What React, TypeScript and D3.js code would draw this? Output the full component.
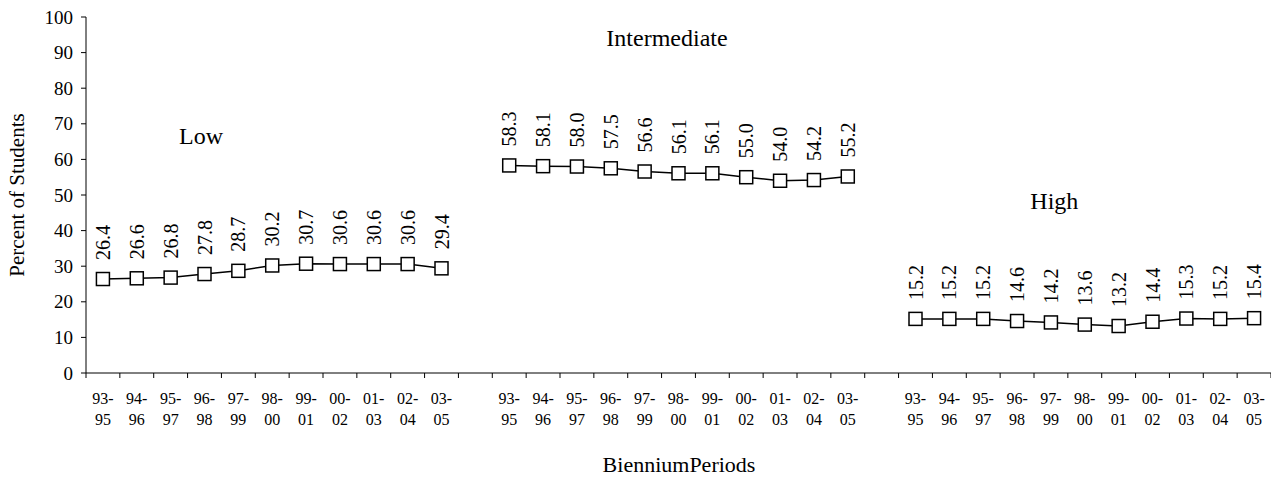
import React from "react";
import * as d3 from "d3";

const periods = ["93-95", "94-96", "95-97", "96-98", "97-99", "98-00", "99-01", "00-02", "01-03", "02-04", "03-05"];
const groups = ["Low", "Intermediate", "High"];
const lowValues = [26.4, 26.6, 26.8, 27.8, 28.7, 30.2, 30.7, 30.6, 30.6, 30.6, 29.4];
const intermediateValues = [58.3, 58.1, 58.0, 57.5, 56.6, 56.1, 56.1, 55.0, 54.0, 54.2, 55.2];
const highValues = [15.2, 15.2, 15.2, 14.6, 14.2, 13.6, 13.2, 14.4, 15.3, 15.2, 15.4];
const yTicks = [0, 10, 20, 30, 40, 50, 60, 70, 80, 90, 100];
// group label anchor: [slot position, value]
const groupLabelPos: [number, number][] = [[2.9, 64.2], [16.66, 91.8], [28.1, 46]];

const W = 1271, H = 477;
const FONT = "Liberation Serif, DejaVu Serif, Times New Roman, serif";

export default function App() {
  const series = [lowValues, intermediateValues, highValues];
  const nSlots = periods.length * 3 + 2;
  const x = d3.scaleBand<number>().domain(d3.range(nSlots)).range([86, 1271]).padding(0);
  const y = d3.scaleLinear().domain([0, 100]).range([373, 17]);
  const slotIndex = (g: number, i: number) => g * (periods.length + 1) + i;
  const cx = (s: number) => (x(s) as number) + x.bandwidth() / 2;
  const line = d3.line<[number, number]>().x(d => d[0]).y(d => d[1]);
  const xAt = (pos: number) => 86 + pos * x.bandwidth() + x.bandwidth() / 2;
  const ms = 13;
  const ts = { fontFamily: FONT } as React.CSSProperties;

  return (
    <svg width={W} height={H} style={{ position: "absolute", left: 0, top: 0, background: "#fff", fontFamily: FONT }}>
      <rect width={W} height={H} fill="#fff" />
      {/* Y axis */}
      <line x1={86} x2={86} y1={y(100)} y2={y(0)} stroke="#000" strokeWidth={1} />
      {yTicks.map(t => (
        <g key={t}>
          <line x1={81} x2={86} y1={y(t)} y2={y(t)} stroke="#000" />
          <text style={ts} x={73} y={y(t)} dy="0.35em" textAnchor="end" fontSize={19}>{t}</text>
        </g>
      ))}
      <text style={ts} transform={`translate(24,${(y(0) + y(100)) / 2}) rotate(-90)`} textAnchor="middle" fontSize={21}>Percent of Students</text>
      {/* X axis */}
      <line x1={86} x2={W} y1={y(0)} y2={y(0)} stroke="#000" strokeWidth={1} />
      {d3.range(nSlots + 1).map(s => (
        <line key={s} x1={86 + s * x.bandwidth()} x2={86 + s * x.bandwidth()} y1={y(0)} y2={y(0) + 5} stroke="#000" />
      ))}
      {groups.map((g, gi) => periods.map((p, i) => {
        const [a, b] = p.split("-");
        const xx = cx(slotIndex(gi, i));
        return (
          <text style={ts} key={g + p} x={xx} y={404} textAnchor="middle" fontSize={16}>
            <tspan x={xx}>{a}-</tspan>
            <tspan x={xx} dy={21}>{b}</tspan>
          </text>
        );
      }))}
      <text style={ts} x={679} y={472} textAnchor="middle" fontSize={22}>BienniumPeriods</text>
      {/* Series */}
      {series.map((vals, gi) => {
        const pts: [number, number][] = vals.map((v, i) => [cx(slotIndex(gi, i)), y(v)]);
        return (
          <g key={gi}>
            <path d={line(pts) as string} fill="none" stroke="#000" strokeWidth={1.5} />
            {pts.map((p, i) => (
              <rect key={i} x={p[0] - ms / 2} y={p[1] - ms / 2} width={ms} height={ms} fill="#fff" stroke="#000" strokeWidth={1.5} />
            ))}
            {pts.map((p, i) => (
              <text style={ts} key={"l" + i} transform={`translate(${p[0]},${p[1] - 19}) rotate(-90)`} dy="0.35em" textAnchor="start" fontSize={20}>
                {vals[i].toFixed(1)}
              </text>
            ))}
            <text style={ts} x={xAt(groupLabelPos[gi][0])} y={y(groupLabelPos[gi][1])} textAnchor="middle" fontSize={24}>{groups[gi]}</text>
          </g>
        );
      })}
    </svg>
  );
}
